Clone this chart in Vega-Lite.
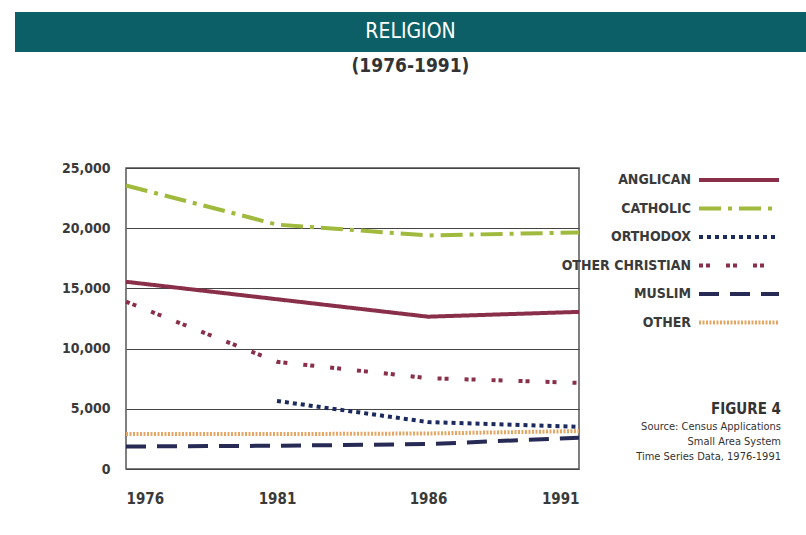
{
  "$schema": "https://vega.github.io/schema/vega-lite/v6.json",
  "background": "white",
  "padding": {"left": 15, "top": 12, "right": 0, "bottom": 0},
  "columns": 1,
  "spacing": 84,
  "resolve": {"legend": {"color": "independent", "strokeDash": "independent"}},
  "config": {
    "font": "Liberation Sans Narrow, DejaVu Sans Condensed, sans-serif",
    "view": {"stroke": "#555555", "strokeWidth": 1.5}
  },
  "concat": [
    {
      "width": 791,
      "height": 40,
      "view": {"fill": "#0d5f67", "stroke": null},
      "title": {"text": "(1976-1991)", "orient": "bottom", "offset": 5, "fontSize": 19, "fontWeight": "bold", "color": "#333333", "anchor": "middle"},
      "data": {"values": [{"label": "RELIGION"}]},
      "mark": {"type": "text", "color": "white", "fontSize": 21, "baseline": "middle"},
      "encoding": {"text": {"field": "label"}}
    },
    {
      "spacing": 10,
      "resolve": {"legend": {"color": "independent", "strokeDash": "independent"}},
      "hconcat": [
        {
          "width": 30,
          "height": 10,
          "view": {"stroke": null},
          "data": {"values": []},
          "mark": "text",
          "encoding": {}
        },
        {
          "width": 453,
          "height": 301,
          "title": {
            "text": "FIGURE 4",
            "subtitle": ["Source: Census Applications", "Small Area System", "Time Series Data, 1976-1991"],
            "orient": "bottom", "anchor": "end", "frame": "bounds",
            "fontSize": 15, "fontWeight": "bold", "color": "#333333",
            "subtitleFontSize": 11, "subtitleColor": "#333333", "subtitlePadding": 4, "subtitleLineHeight": 15,
            "dy": -108, "dx": -6
          },
          "data": {"values": [
            {"year": 1976, "religion": "ANGLICAN", "count": 15550},
            {"year": 1981, "religion": "ANGLICAN", "count": 14100},
            {"year": 1986, "religion": "ANGLICAN", "count": 12650},
            {"year": 1991, "religion": "ANGLICAN", "count": 13050},
            {"year": 1976, "religion": "CATHOLIC", "count": 23550},
            {"year": 1981, "religion": "CATHOLIC", "count": 20300},
            {"year": 1986, "religion": "CATHOLIC", "count": 19400},
            {"year": 1991, "religion": "CATHOLIC", "count": 19650},
            {"year": 1981, "religion": "ORTHODOX", "count": 5650},
            {"year": 1986, "religion": "ORTHODOX", "count": 3900},
            {"year": 1991, "religion": "ORTHODOX", "count": 3500},
            {"year": 1976, "religion": "OTHER CHRISTIAN", "count": 13900},
            {"year": 1981, "religion": "OTHER CHRISTIAN", "count": 8900},
            {"year": 1986, "religion": "OTHER CHRISTIAN", "count": 7550},
            {"year": 1991, "religion": "OTHER CHRISTIAN", "count": 7150},
            {"year": 1976, "religion": "MUSLIM", "count": 1870},
            {"year": 1981, "religion": "MUSLIM", "count": 1930},
            {"year": 1986, "religion": "MUSLIM", "count": 2070},
            {"year": 1991, "religion": "MUSLIM", "count": 2600},
            {"year": 1976, "religion": "OTHER", "count": 2900},
            {"year": 1981, "religion": "OTHER", "count": 2900},
            {"year": 1986, "religion": "OTHER", "count": 2950},
            {"year": 1991, "religion": "OTHER", "count": 3150}
          ]},
          "mark": {"type": "line", "strokeWidth": 4, "strokeCap": "butt"},
          "encoding": {
            "x": {
              "field": "year", "type": "quantitative",
              "scale": {"domain": [1976, 1991], "nice": false, "zero": false},
              "axis": {"values": [1976, 1981, 1986, 1991], "format": "d", "title": null, "grid": false, "domain": false, "ticks": false, "labelPadding": 22, "labelFontSize": 15, "labelFontWeight": "bold", "labelColor": "#3a3a3a"}
            },
            "y": {
              "field": "count", "type": "quantitative",
              "scale": {"domain": [0, 25000], "nice": false},
              "axis": {"values": [0, 5000, 10000, 15000, 20000, 25000], "format": ",d", "title": null, "domain": false, "ticks": false, "labelPadding": 16, "minExtent": 70, "maxExtent": 70, "labelFontSize": 14, "labelFontWeight": "bold", "labelColor": "#3a3a3a", "gridColor": "#444444", "gridWidth": 1.2}
            },
            "color": {
              "field": "religion", "type": "nominal",
              "scale": {
                "domain": ["ANGLICAN", "CATHOLIC", "ORTHODOX", "OTHER CHRISTIAN", "MUSLIM", "OTHER"],
                "range": ["#8a2f49", "#9fba3c", "#1c2a5e", "#8a2f49", "#262a55", "#e6a663"]
              },
              "legend": {
                "title": null, "orient": "right", "offset": 140,
                "symbolType": "M-4,0H4", "symbolSize": 400, "symbolStrokeWidth": 4,
                "rowPadding": 8.5,
                "labelAlign": "right", "labelOffset": -60, "labelFontSize": 14, "labelFontWeight": "bold", "labelColor": "#3a3a3a", "labelLimit": 200
              }
            },
            "strokeDash": {
              "field": "religion", "type": "nominal",
              "scale": {
                "domain": ["ANGLICAN", "CATHOLIC", "ORTHODOX", "OTHER CHRISTIAN", "MUSLIM", "OTHER"],
                "range": [[1, 0], [22, 7, 4, 7], [4, 4], [4, 3, 4, 16], [20, 11], [2, 1.5]]
              },
              "legend": {
                "title": null, "orient": "right", "offset": 140,
                "symbolType": "M-4,0H4", "symbolSize": 400, "symbolStrokeWidth": 4,
                "rowPadding": 8.5,
                "labelAlign": "right", "labelOffset": -60, "labelFontSize": 14, "labelFontWeight": "bold", "labelColor": "#3a3a3a", "labelLimit": 200
              }
            }
          }
        }
      ]
    }
  ]
}
